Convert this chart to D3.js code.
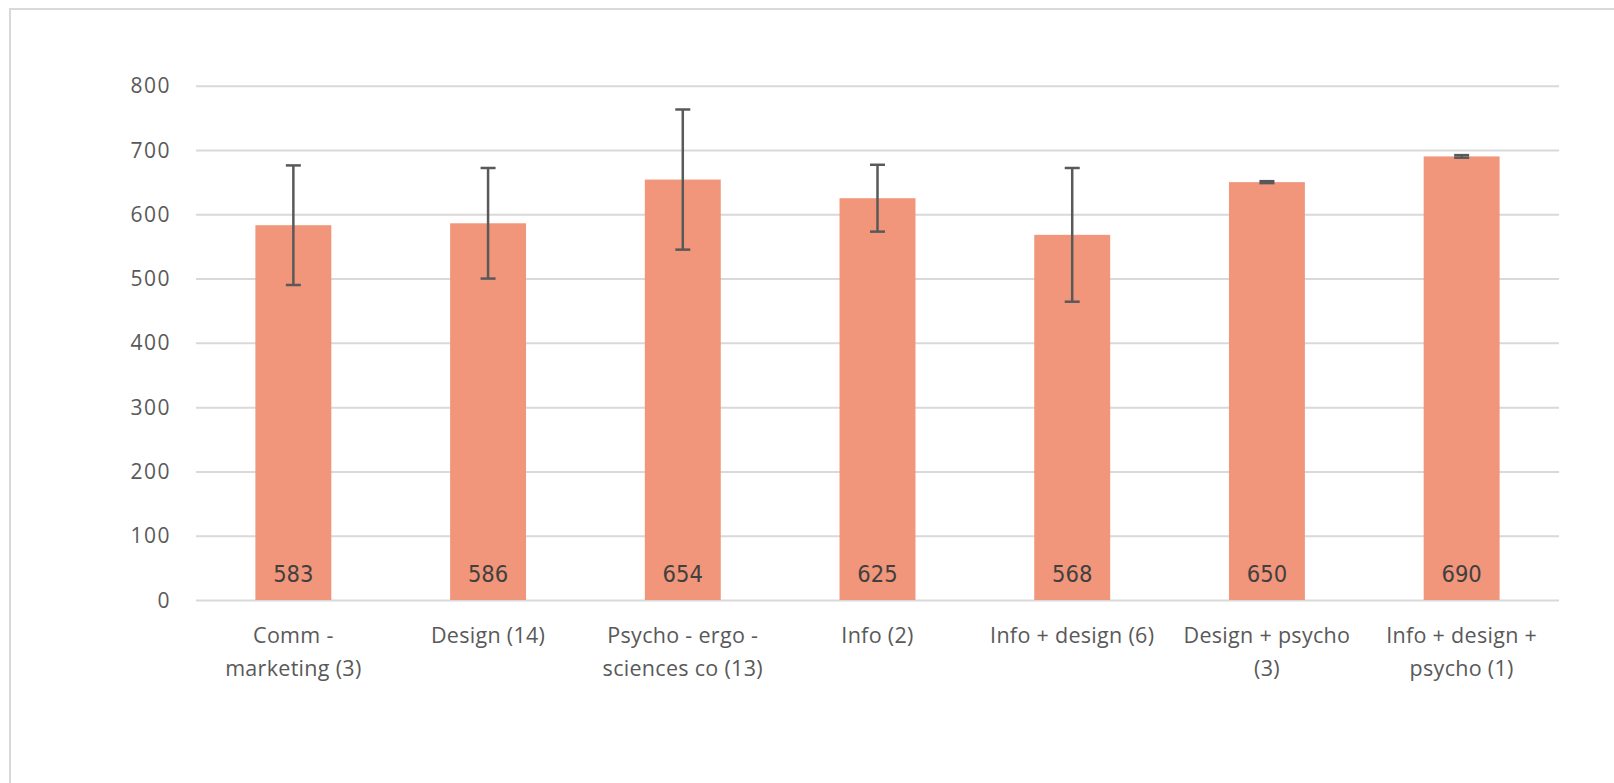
<!DOCTYPE html>
<html>
<head>
<meta charset="utf-8">
<script src="https://cdn.jsdelivr.net/npm/d3@7"></script>
<style>
  html, body { margin: 0; padding: 0; background: #ffffff; }
  svg { display: block; }
</style>
</head>
<body>
<svg id="chart" width="1614" height="783"></svg>
<script>
const categories = [
  "Comm -\nmarketing (3)",
  "Design (14)",
  "Psycho - ergo -\nsciences co (13)",
  "Info (2)",
  "Info + design (6)",
  "Design + psycho\n(3)",
  "Info + design +\npsycho (1)"
];
const values = [583, 586, 654, 625, 568, 650, 690];
const errors = [93, 86, 109, 52, 104, 1.5, 2];
const yTicks = [0, 100, 200, 300, 400, 500, 600, 700, 800];

const svg = d3.select("#chart");

// outer chart border
svg.append("rect")
  .attr("x", 10).attr("y", 9)
  .attr("width", 1700).attr("height", 900)
  .attr("fill", "none")
  .attr("stroke", "#d9d9d9")
  .attr("stroke-width", 2);

const x = d3.scaleBand()
  .domain(categories)
  .range([196, 1559])
  .paddingInner(0.61)
  .paddingOuter(0.305);

const y = d3.scaleLinear()
  .domain([0, 800])
  .range([600, 85.7]);

// gridlines
const yAxis = d3.axisLeft(y)
  .tickValues(yTicks)
  .tickSize(-(1559 - 196))
  .tickPadding(25)
  .tickFormat(d3.format("d"));

const gy = svg.append("g")
  .attr("transform", "translate(196,0)")
  .call(yAxis);
gy.select(".domain").remove();
gy.selectAll(".tick line")
  .attr("stroke", "#d9d9d9")
  .attr("stroke-width", 2);
gy.selectAll(".tick text")
  .attr("fill", "#595959")
  .attr("font-family", "'Open Sans', sans-serif")
  .attr("font-size", 21)
  .attr("letter-spacing", 1.5)
  .attr("dy", "0.34em");

// bars
svg.append("g").selectAll("rect")
  .data(values)
  .join("rect")
  .attr("x", (d, i) => x(categories[i]))
  .attr("y", d => y(d))
  .attr("width", x.bandwidth())
  .attr("height", d => y(0) - y(d))
  .attr("fill", "#F1967A");

// error bars
const eg = svg.append("g")
  .attr("stroke", "#595959")
  .attr("stroke-width", 2.5);
values.forEach((v, i) => {
  const cx = x(categories[i]) + x.bandwidth() / 2;
  const hi = y(v + errors[i]);
  const lo = y(v - errors[i]);
  eg.append("line").attr("x1", cx).attr("x2", cx).attr("y1", hi).attr("y2", lo);
  eg.append("line").attr("x1", cx - 7.5).attr("x2", cx + 7.5).attr("y1", hi).attr("y2", hi);
  eg.append("line").attr("x1", cx - 7.5).attr("x2", cx + 7.5).attr("y1", lo).attr("y2", lo);
});

// data labels at the base of each bar
svg.append("g").selectAll("text")
  .data(values)
  .join("text")
  .attr("x", (d, i) => x(categories[i]) + x.bandwidth() / 2)
  .attr("y", y(0) - 18)
  .attr("text-anchor", "middle")
  .attr("fill", "#404040")
  .attr("font-family", "'DejaVu Sans Condensed', 'DejaVu Sans', sans-serif")
  .attr("font-stretch", "condensed")
  .attr("font-size", 23.5)
  .text(d => d);

// category labels
const cg = svg.append("g");
categories.forEach(c => {
  const lines = c.split("\n");
  const t = cg.append("text")
    .attr("x", x(c) + x.bandwidth() / 2)
    .attr("y", 643)
    .attr("text-anchor", "middle")
    .attr("fill", "#595959")
    .attr("font-family", "'Open Sans', sans-serif")
    .attr("font-size", 21.5)
    .attr("letter-spacing", 0.3);
  lines.forEach((ln, j) => {
    t.append("tspan")
      .attr("x", x(c) + x.bandwidth() / 2)
      .attr("dy", j === 0 ? 0 : 33)
      .text(ln);
  });
});
</script>
</body>
</html>
